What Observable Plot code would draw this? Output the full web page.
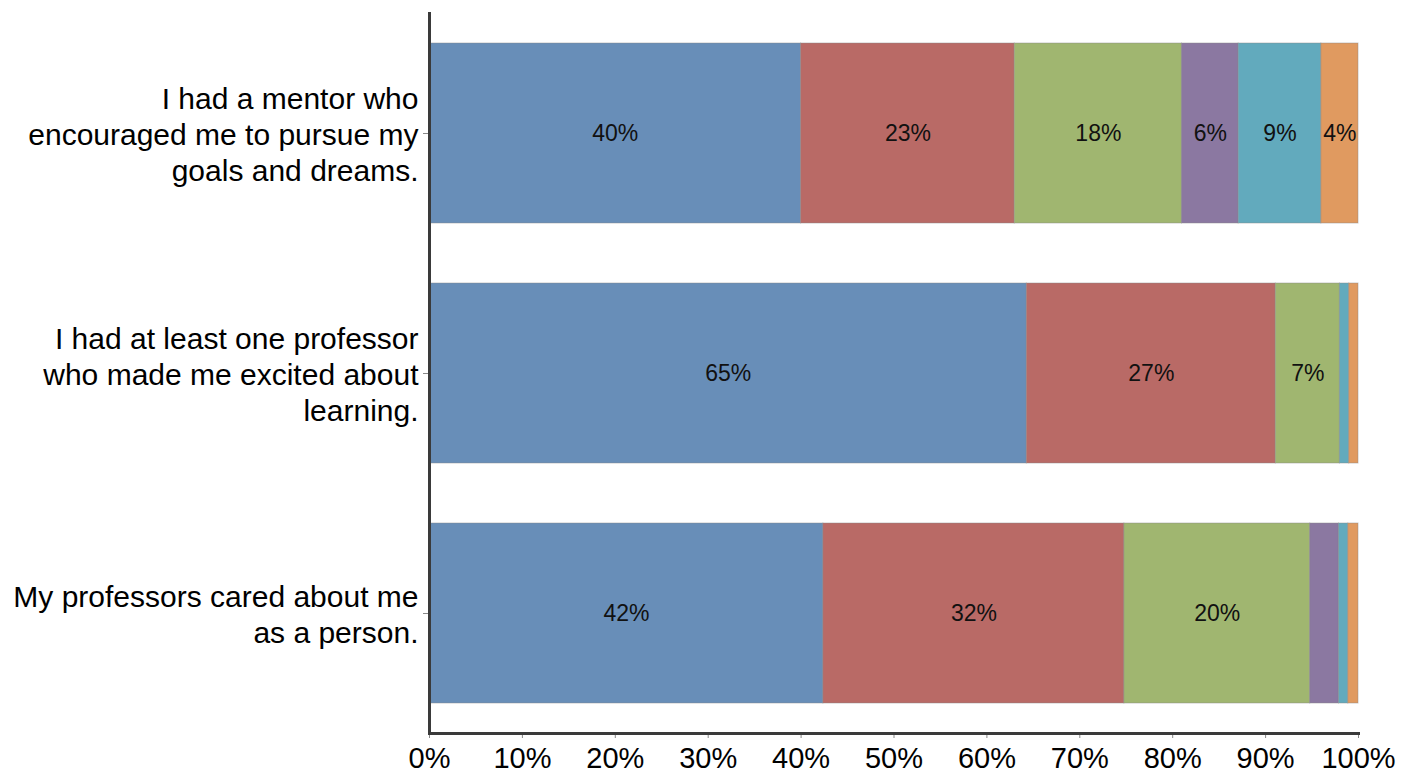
<!DOCTYPE html>
<html>
<head>
<meta charset="utf-8">
<script src="https://cdn.jsdelivr.net/npm/d3@7"></script>
<script src="https://cdn.jsdelivr.net/npm/@observablehq/plot@0.6"></script>
<style>
  html, body { margin: 0; padding: 0; background: #fff; }
  #chart { width: 1402px; height: 775px; }
</style>
</head>
<body>
<div id="chart"></div>
<script>
// Categories (top to bottom)
const questions = [
  "I had a mentor who\nencouraged me to pursue my\ngoals and dreams.",
  "I had at least one professor\nwho made me excited about\nlearning.",
  "My professors cared about me\nas a person."
];
// Response series (stack order, left to right)
const series = ["S1", "S2", "S3", "S4", "S5", "S6"];
// Values (percent) per question, in series order
const mentorValues    = [40.0, 23.0, 18.0, 6.1, 8.9, 4.0];
const professorValues = [64.3, 26.8, 6.9, 0.0, 1.0, 1.0];
const caredValues     = [42.4, 32.4, 20.0, 3.1, 1.0, 1.1];
// Segment labels as printed
const mentorLabels    = ["40%", "23%", "18%", "6%", "9%", "4%"];
const professorLabels = ["65%", "27%", "7%", "", "", ""];
const caredLabels     = ["42%", "32%", "20%", "", "", ""];
// X tick values
const xTicks = [0, 10, 20, 30, 40, 50, 60, 70, 80, 90, 100];

const colors = ["#688eb8", "#b96a66", "#a0b670", "#8b78a1", "#62aabd", "#e09a60"];

const valueSets = [mentorValues, professorValues, caredValues];
const labelSets = [mentorLabels, professorLabels, caredLabels];
const data = [];
questions.forEach((q, qi) => {
  series.forEach((s, si) => {
    data.push({question: q, series: s, value: valueSets[qi][si], label: labelSets[qi][si]});
  });
});

const font = "'Liberation Sans', Arial, sans-serif";

const chart = Plot.plot({
  width: 1402,
  height: 775,
  marginLeft: 429,
  marginRight: 44,
  marginTop: 12,
  marginBottom: 42,
  style: {fontFamily: font, background: "#fff", color: "#000"},
  x: {domain: [0, 100]},
  y: {domain: questions, paddingInner: 0.25, paddingOuter: 0.125},
  color: {domain: series, range: colors},
  marks: [
    Plot.barX(data, {
      x: "value", y: "question", fill: "series",
      stroke: "#888", strokeOpacity: 0.45, strokeWidth: 1
    }),
    Plot.text(data.filter(d => d.label !== ""), Plot.stackX({
      x: "value", y: "question", z: "series", text: "label",
      fontSize: 23, fill: "#111"
    })),
    Plot.axisX({
      ticks: xTicks, tickFormat: d => d + "%", fontSize: 29,
      tickSize: 5, tickPadding: 9, stroke: "#888", fill: "#000", label: null
    }),
    Plot.axisY({
      tickFormat: d => d, fontSize: 30, lineHeight: 1.2,
      tickSize: 6, tickPadding: 5, stroke: "#888", fill: "#000", label: null
    }),
    Plot.frame({anchor: "bottom", stroke: "#3a3a3a", strokeWidth: 3}),
    Plot.ruleX([0], {stroke: "#3a3a3a", strokeWidth: 3})
  ]
});

document.getElementById("chart").appendChild(chart);
</script>
</body>
</html>
